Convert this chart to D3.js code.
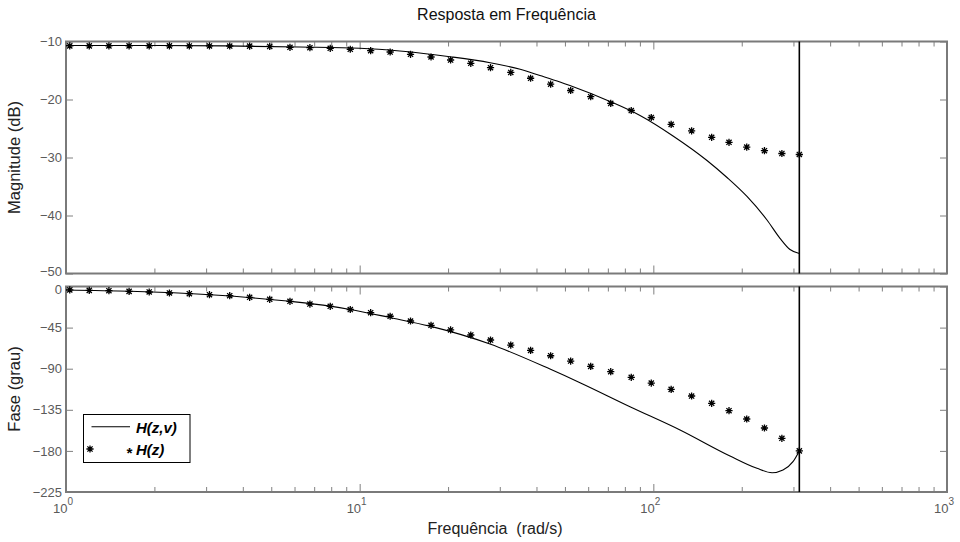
<!DOCTYPE html>
<html>
<head>
<meta charset="utf-8">
<script src="https://cdn.jsdelivr.net/npm/d3@7"></script>
<style>
  body { margin: 0; background: #fff; }
  svg { display: block; font-family: "Liberation Sans", Arial, Helvetica, sans-serif; }
  .tick text { fill: #5a5a5a; font-size: 13px; }
  .tick line { stroke: #808080; }
</style>
</head>
<body>
<svg id="bode" width="960" height="542"></svg>
<script>
// frequencies (rad/s) of the H(z) samples
var starFreq = [1.03, 1.2, 1.4, 1.64, 1.92, 2.25, 2.63, 3.08, 3.61, 4.22, 4.94, 5.79, 6.77, 7.94,
  9.29, 10.9, 12.7, 14.9, 17.5, 20.4, 23.9, 27.9, 32.7, 38.2, 44.7, 52.3, 61.2, 71.6, 84.1,
  98.4, 115, 135, 158, 181, 208, 239, 274, 314.16];
var starMag = [-10.75, -10.75, -10.75, -10.75, -10.76, -10.76, -10.77, -10.77, -10.78, -10.8,
  -10.85, -11.0, -11.07, -11.17, -11.34, -11.59, -11.81, -12.21, -12.67, -13.19, -13.76,
  -14.52, -15.34, -16.34, -17.36, -18.45, -19.52, -20.67, -21.9, -23.1, -24.28, -25.4,
  -26.52, -27.38, -28.22, -28.83, -29.31, -29.48];
var starPhase = [-3.8, -4.2, -4.6, -5.3, -6.0, -7.1, -7.9, -9.0, -10.1, -11.8, -14.0, -16.2,
  -19.2, -21.7, -25.2, -28.7, -32.6, -37.8, -42.5, -47.6, -53.1, -58.6, -64.1, -69.9, -75.8,
  -81.6, -87.4, -93.3, -99.4, -105.7, -112.6, -119.9, -127.9, -136.0, -145.1, -154.9, -166.2, -180];

// H(z,v) curve
var magFreq = [1, 2, 3.5, 6.26, 10, 13.7, 20.3, 27.8, 35.2, 41.1, 48.1, 52, 71.2, 90.1, 116.7,
  152.3, 178.2, 208.4, 243.8, 270, 292, 314.16];
var magVal = [-10.68, -10.7, -10.76, -10.95, -11.17, -11.64, -12.62, -13.66, -14.79, -15.86,
  -16.98, -17.59, -20.34, -22.76, -26.29, -30.52, -33.45, -36.72, -40.78, -43.93, -45.86, -46.55];
var phaseFreq = [1, 1.65, 3.1, 5.79, 7.93, 9.27, 12.69, 17.35, 27.78, 44.47, 56.27, 83.27,
  123.3, 182.4, 225.4, 253.6, 276.4, 298.9, 314.16];
var phaseVal = [-3.8, -5.2, -9.1, -16.2, -21.5, -25.1, -34.0, -43.4, -63.0, -90.4, -105.3,
  -131.6, -157.1, -185.6, -199.1, -203.9, -200.9, -191.8, -180];

var nyquist = 314.16;
var magTicks = [-10, -20, -30, -40, -50];
var phaseTicks = [0, -45, -90, -135, -180, -225];
var decades = [1, 10, 100, 1000];

var svg = d3.select('#bode');
var LEFT = 66, RIGHT = 947;
var x = d3.scaleLog().domain([1, 1000]).range([LEFT, RIGHT]);
var yMag = d3.scaleLinear().domain([-50, -10]).range([273.5, 41.5]);
var yPh = d3.scaleLinear().domain([-225, 0]).range([492, 286.5]);

var minors = [];
decades.slice(0, 3).forEach(function(d) {
  for (var k = 2; k < 10; k++) minors.push(d * k);
});

function star(r) {
  var d = r * 0.72;
  return 'M' + (-r) + ',0L' + r + ',0M0,' + (-r) + 'L0,' + r +
    'M' + (-d) + ',' + (-d) + 'L' + d + ',' + d + 'M' + (-d) + ',' + d + 'L' + d + ',' + (-d);
}

function panel(y, ticks, curveF, curveV, stars) {
  var top = y.range()[1], bot = y.range()[0];
  var g = svg.append('g');

  // x ticks, inward, on both edges
  [[d3.axisBottom, bot], [d3.axisTop, top]].forEach(function(a) {
    g.append('g').attr('transform', 'translate(0,' + a[1] + ')')
      .call(a[0](x).tickValues(minors).tickSizeInner(-5).tickSizeOuter(0).tickFormat(''));
    g.append('g').attr('transform', 'translate(0,' + a[1] + ')')
      .call(a[0](x).tickValues(decades).tickSizeInner(-8).tickSizeOuter(0).tickFormat(''));
  });

  var ya = g.append('g').attr('transform', 'translate(' + LEFT + ',0)')
    .call(d3.axisLeft(y).tickValues(ticks).tickSizeInner(-7).tickSizeOuter(0).tickPadding(4));
  g.append('g').attr('transform', 'translate(' + RIGHT + ',0)')
    .call(d3.axisRight(y).tickValues(ticks).tickSizeInner(-7).tickSizeOuter(0).tickFormat(''));
  g.selectAll('.domain').remove();

  // keep the -50 / 0 labels at the panel join apart
  ya.selectAll('.tick text').attr('dy', function(d) {
    if (d === -50) return '0.12em';
    if (d === 0) return '0.5em';
    return '0.32em';
  });

  g.append('rect')
    .attr('x', LEFT).attr('y', top)
    .attr('width', RIGHT - LEFT).attr('height', bot - top)
    .attr('fill', 'none').attr('stroke', '#7a7a7a').attr('stroke-width', 2);

  var line = d3.line()
    .x(function(d, i) { return x(curveF[i]); })
    .y(function(d) { return y(d); })
    .curve(d3.curveMonotoneX);
  g.append('path').datum(curveV)
    .attr('d', line)
    .attr('fill', 'none').attr('stroke', '#000').attr('stroke-width', 1.1);

  g.append('line')
    .attr('x1', x(nyquist)).attr('x2', x(nyquist))
    .attr('y1', top).attr('y2', bot)
    .attr('stroke', '#000').attr('stroke-width', 1.6);

  g.selectAll('path.star').data(stars).enter()
    .append('path').attr('class', 'star')
    .attr('transform', function(d, i) { return 'translate(' + x(starFreq[i]) + ',' + y(d) + ')'; })
    .attr('d', star(3.6))
    .attr('stroke', '#000').attr('stroke-width', 1.3).attr('fill', 'none');
}

panel(yMag, magTicks, magFreq, magVal, starMag);
panel(yPh, phaseTicks, phaseFreq, phaseVal, starPhase);

// decade labels 10^n under the lower panel
var xl = svg.append('g');
decades.forEach(function(d, i) {
  var t = xl.append('text')
    .attr('x', x(d) - 3).attr('y', 513)
    .attr('text-anchor', 'middle')
    .attr('fill', '#5a5a5a').attr('font-size', '13px');
  t.append('tspan').text('10');
  t.append('tspan').attr('dy', -8).attr('font-size', '10px').text(i);
});

svg.append('text')
  .attr('x', (LEFT + RIGHT) / 2).attr('y', 20)
  .attr('text-anchor', 'middle').attr('font-size', '16px').attr('fill', '#111')
  .text('Resposta em Frequência');

svg.append('text')
  .attr('x', 495).attr('y', 534)
  .attr('text-anchor', 'middle').attr('font-size', '16px').attr('fill', '#222')
  .attr('xml:space', 'preserve')
  .text('Frequência  (rad/s)');

svg.append('text')
  .attr('transform', 'translate(20,157.5) rotate(-90)')
  .attr('text-anchor', 'middle').attr('font-size', '16.5px').attr('fill', '#222')
  .text('Magnitude (dB)');

svg.append('text')
  .attr('transform', 'translate(20,389) rotate(-90)')
  .attr('text-anchor', 'middle').attr('font-size', '16.5px').attr('fill', '#222')
  .text('Fase (grau)');

// legend
var lg = svg.append('g');
lg.append('rect')
  .attr('x', 83.5).attr('y', 414.5).attr('width', 106.5).attr('height', 48)
  .attr('fill', '#fff').attr('stroke', '#000').attr('stroke-width', 1);
lg.append('line')
  .attr('x1', 91.5).attr('x2', 130).attr('y1', 426.7).attr('y2', 426.7)
  .attr('stroke', '#000').attr('stroke-width', 1.1);
lg.append('text')
  .attr('x', 136).attr('y', 432.5)
  .attr('font-size', '15px').attr('font-weight', 'bold').attr('font-style', 'italic')
  .text('H(z,v)');
lg.append('path')
  .attr('transform', 'translate(90,449)')
  .attr('d', star(3.6))
  .attr('stroke', '#000').attr('stroke-width', 1.3).attr('fill', 'none');
var lt = lg.append('text')
  .attr('x', 126).attr('y', 455)
  .attr('font-size', '15px').attr('font-weight', 'bold').attr('font-style', 'italic');
lt.append('tspan').attr('dy', 3).text('*');
lt.append('tspan').attr('x', 136).attr('dy', -3).text('H(z)');
</script>
</body>
</html>
